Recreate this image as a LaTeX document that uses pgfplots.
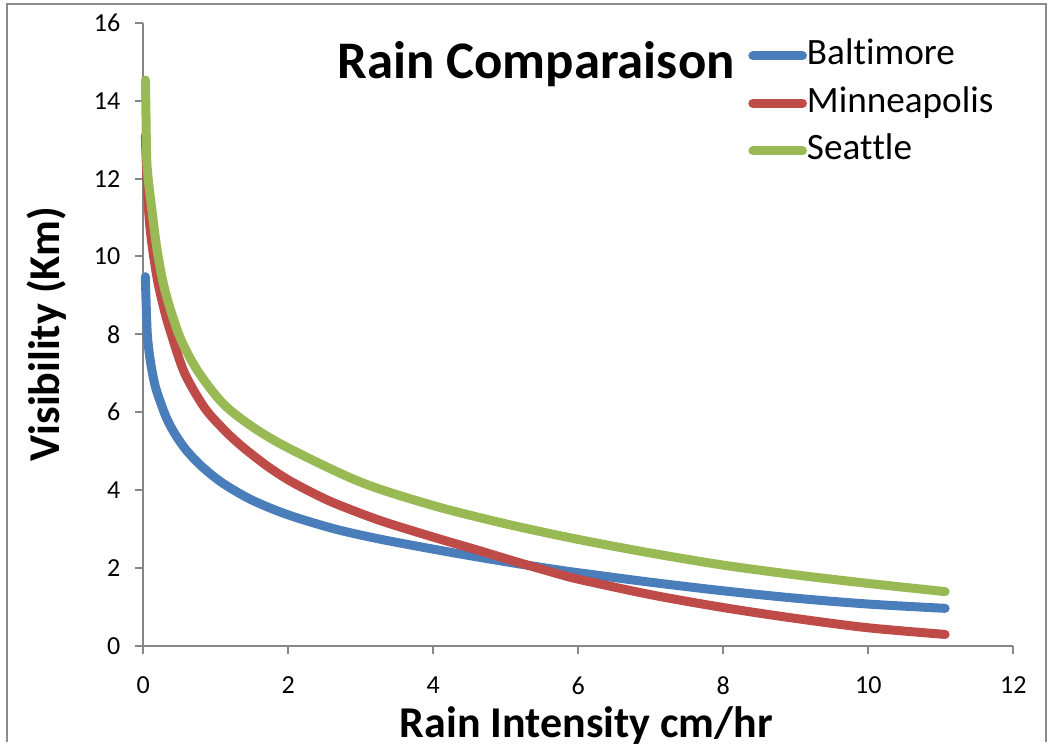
\documentclass[border=0pt]{standalone}
\usepackage{pgfplots}
\pgfplotsset{compat=1.18}
\usepackage{fontspec}
\setmainfont{Carlito}[Ligatures={NoCommon,NoContextual,NoRequired}, Contextuals=NoAlternate]
\definecolor{cblue}{HTML}{4A7EBB}
\definecolor{cred}{HTML}{BE4B48}
\definecolor{cgreen}{HTML}{98B954}
\definecolor{axgray}{HTML}{868686}
\definecolor{framegray}{HTML}{8C8C8C}
\pgfplotstableread{
x y
0.028 9.48
0.040 8.75
0.055 8.00
0.080 7.55
0.110 7.17
0.160 6.70
0.226 6.31
0.320 5.85
0.430 5.46
0.590 5.03
0.810 4.60
1.100 4.17
1.500 3.74
2.000 3.36
2.640 3.00
3.260 2.74
4.000 2.48
4.640 2.27
5.190 2.10
5.750 1.94
6.020 1.87
7.000 1.63
8.000 1.41
9.000 1.22
10.000 1.07
11.060 0.96
}\baltimore
\pgfplotstableread{
x y
0.028 13.10
0.050 12.00
0.080 11.00
0.120 10.30
0.200 9.35
0.300 8.55
0.386 8.00
0.570 7.00
0.850 6.10
1.150 5.48
1.400 5.06
1.720 4.60
2.000 4.26
2.300 3.96
2.640 3.66
3.260 3.22
4.000 2.79
4.640 2.44
5.190 2.13
5.750 1.83
6.020 1.70
7.000 1.31
8.000 0.98
9.000 0.70
10.000 0.46
11.060 0.29
}\minneapolis
\pgfplotstableread{
x y
0.030 14.53
0.038 13.50
0.047 12.50
0.070 11.95
0.115 11.25
0.190 10.17
0.300 9.12
0.500 7.95
0.750 7.06
1.100 6.22
1.500 5.63
2.000 5.08
3.000 4.20
4.000 3.60
5.000 3.13
6.000 2.73
7.000 2.38
8.000 2.07
9.000 1.82
10.000 1.60
11.060 1.39
}\seattle
\begin{document}
\begin{tikzpicture}
\path (0pt,0pt) rectangle (526pt,371pt);
\draw[framegray, line width=1pt] (3.5pt,0pt) -- (3.5pt,369pt) -- (523pt,369pt) -- (523pt,0pt);
\begin{axis}[
  at={(71.65pt,48.15pt)}, anchor=south west,
  width=435pt, height=311.4pt, scale only axis,
  xmin=0, xmax=12, ymin=0, ymax=16,
  xtick={0,2,...,12}, ytick={0,2,...,16},
  axis lines=left,
  axis line style={-, axgray, line width=1pt},
  tick style={axgray, line width=1pt},
  tick align=outside, major tick length=4pt,
  /pgf/number format/assume math mode=true,
  ticklabel style={font=\fontsize{13}{15}\selectfont, text=black},
  xticklabel style={yshift=-8pt},
  yticklabel style={xshift=-4pt},
  xlabel={\textbf{Rain Intensity cm/hr}},
  ylabel={\textbf{Visibility (Km)}},
  label style={font=\fontsize{22}{26}\selectfont},
  xlabel style={at={(axis description cs:0.5,0)}, anchor=base, yshift=-46pt, xshift=4pt},
  ylabel style={at={(axis description cs:-0.111,0.5)}, anchor=center},
  legend style={at={(axis description cs:0.695,0.974)}, anchor=north west, draw=none, fill=none,
    font=\fontsize{18.6}{20}\selectfont, inner sep=0pt, row sep=7.3pt,
    nodes={inner sep=0pt, text height=12.7pt, text depth=3.7pt}},
  legend cell align=left,
  legend image code/.code={\draw[#1, line cap=round] (2.2pt,0pt) -- (27pt,0pt);},
  clip=false,
]
\addplot[cblue, line width=4.5pt, line cap=round, line join=round, smooth] table {\baltimore};
\addlegendentry{Balt\kern0pt imore}
\addplot[cred, line width=4.5pt, line cap=round, line join=round, smooth] table {\minneapolis};
\addlegendentry{Minneapolis}
\addplot[cgreen, line width=4.5pt, line cap=round, line join=round, smooth] table {\seattle};
\addlegendentry{Seat\kern0pt t\kern0pt le}
\end{axis}
\node[anchor=base, font=\fontsize{26.4}{30}\selectfont\bfseries] at (268pt,331.5pt) {Rain Comparaison};
\end{tikzpicture}
\end{document}
